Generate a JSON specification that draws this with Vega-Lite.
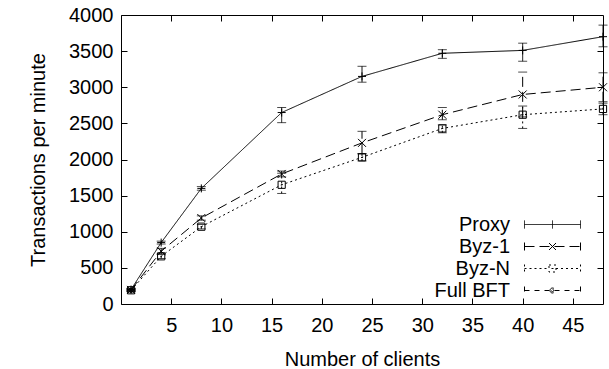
{
  "$schema": "https://vega.github.io/schema/vega-lite/v6.json",
  "width": 482,
  "height": 289,
  "autosize": "none",
  "padding": {"left": 121, "top": 15, "right": 6, "bottom": 65},
  "background": "white",
  "config": {
    "font": "Liberation Sans",
    "view": {"stroke": "black", "strokeWidth": 1},
    "axis": {
      "domain": false,
      "grid": false,
      "tickColor": "black",
      "tickSize": -6,
      "tickWidth": 1,
      "labelFont": "Liberation Sans",
      "labelFontSize": 20,
      "labelColor": "black",
      "labelPadding": 14,
      "titleFont": "Liberation Sans",
      "titleFontSize": 20,
      "titleFontWeight": "normal",
      "titleColor": "black"
    }
  },
  "data": {
    "values": [
      {"clients": 1, "series": "Proxy", "tpm": 200, "lo": 185, "hi": 215},
      {"clients": 4, "series": "Proxy", "tpm": 850, "lo": 830, "hi": 870},
      {"clients": 8, "series": "Proxy", "tpm": 1600, "lo": 1575, "hi": 1625},
      {"clients": 16, "series": "Proxy", "tpm": 2650, "lo": 2510, "hi": 2720},
      {"clients": 24, "series": "Proxy", "tpm": 3150, "lo": 3070, "hi": 3290},
      {"clients": 32, "series": "Proxy", "tpm": 3470, "lo": 3400, "hi": 3520},
      {"clients": 40, "series": "Proxy", "tpm": 3510, "lo": 3360, "hi": 3610},
      {"clients": 48, "series": "Proxy", "tpm": 3700, "lo": 3560, "hi": 3860},
      {"clients": 1, "series": "Byz-1", "tpm": 195, "lo": 180, "hi": 210},
      {"clients": 4, "series": "Byz-1", "tpm": 730, "lo": 690, "hi": 770},
      {"clients": 8, "series": "Byz-1", "tpm": 1190, "lo": 1160, "hi": 1220},
      {"clients": 16, "series": "Byz-1", "tpm": 1800, "lo": 1760, "hi": 1840},
      {"clients": 24, "series": "Byz-1", "tpm": 2230, "lo": 2080, "hi": 2390},
      {"clients": 32, "series": "Byz-1", "tpm": 2620, "lo": 2550, "hi": 2720},
      {"clients": 40, "series": "Byz-1", "tpm": 2900, "lo": 2590, "hi": 3210},
      {"clients": 48, "series": "Byz-1", "tpm": 3000, "lo": 2800, "hi": 3200},
      {"clients": 1, "series": "Byz-N", "tpm": 190, "lo": 175, "hi": 205},
      {"clients": 4, "series": "Byz-N", "tpm": 660, "lo": 630, "hi": 690},
      {"clients": 8, "series": "Byz-N", "tpm": 1070, "lo": 1040, "hi": 1100},
      {"clients": 16, "series": "Byz-N", "tpm": 1650, "lo": 1530, "hi": 1810},
      {"clients": 24, "series": "Byz-N", "tpm": 2030, "lo": 1980, "hi": 2080},
      {"clients": 32, "series": "Byz-N", "tpm": 2430, "lo": 2370, "hi": 2480},
      {"clients": 40, "series": "Byz-N", "tpm": 2620, "lo": 2430, "hi": 2740},
      {"clients": 48, "series": "Byz-N", "tpm": 2700, "lo": 2620, "hi": 2780},
      {"clients": 1, "series": "Full BFT", "tpm": 190, "lo": 180, "hi": 200}
    ]
  },
  "resolve": {
    "scale": {"shape": "independent", "strokeDash": "independent"},
    "axis": {"x": "independent", "y": "independent"},
    "legend": {"shape": "independent", "strokeDash": "independent"}
  },
  "layer": [
    {
      "mark": {"type": "line", "color": "black", "strokeWidth": 1},
      "encoding": {
        "x": {"field": "clients", "type": "quantitative", "scale": {"domain": [0, 48], "nice": false},
              "axis": {"orient": "bottom", "values": [5, 10, 15, 20, 25, 30, 35, 40, 45], "title": "Number of clients", "titlePadding": 14, "labelPadding": 17}},
        "y": {"field": "tpm", "type": "quantitative", "scale": {"domain": [0, 4000], "nice": false},
              "axis": {"orient": "left", "format": "d", "values": [0, 500, 1000, 1500, 2000, 2500, 3000, 3500, 4000], "title": "Transactions per minute", "titlePadding": 20}},
        "strokeDash": {"field": "series", "type": "nominal",
                       "scale": {"domain": ["Proxy", "Byz-1", "Byz-N", "Full BFT"], "range": [[1, 0], [10, 5], [2, 3], [5, 5]]},
                       "legend": null}
      }
    },
    {
      "mark": {"type": "rule", "color": "black", "strokeWidth": 1},
      "encoding": {
        "x": {"field": "clients", "type": "quantitative",
              "axis": {"orient": "top", "values": [5, 10, 15, 20, 25, 30, 35, 40, 45], "labels": false, "title": null}},
        "y": {"field": "lo", "type": "quantitative",
              "axis": {"orient": "right", "values": [500, 1000, 1500, 2000, 2500, 3000, 3500], "labels": false, "title": null}},
        "y2": {"field": "hi"},
        "strokeDash": {"field": "series", "type": "nominal",
                       "scale": {"domain": ["Proxy", "Byz-1", "Byz-N", "Full BFT"], "range": [[1, 0], [10, 5], [2, 3], [5, 5]]},
                       "legend": null}
      }
    },
    {
      "mark": {"type": "tick", "color": "black", "orient": "horizontal", "size": 9, "thickness": 1},
      "encoding": {
        "x": {"field": "clients", "type": "quantitative", "axis": null},
        "y": {"field": "lo", "type": "quantitative", "axis": null}
      }
    },
    {
      "mark": {"type": "tick", "color": "black", "orient": "horizontal", "size": 9, "thickness": 1},
      "encoding": {
        "x": {"field": "clients", "type": "quantitative", "axis": null},
        "y": {"field": "hi", "type": "quantitative", "axis": null}
      }
    },
    {
      "mark": {"type": "point", "color": "black", "filled": false, "strokeWidth": 1, "size": 64, "opacity": 1},
      "encoding": {
        "x": {"field": "clients", "type": "quantitative", "axis": null},
        "y": {"field": "tpm", "type": "quantitative", "axis": null},
        "shape": {"field": "series", "type": "nominal", "legend": null,
                  "scale": {"domain": ["Proxy", "Byz-1", "Byz-N", "Full BFT"],
                            "range": ["M-1,0H1M0,-1V1", "M-1,-1L1,1M-1,1L1,-1", "M-0.9,-0.9H0.9V0.9H-0.9ZM-0.2,0H0.2", "M-0.6,0A0.6,0.6 0 1 0 0.6,0A0.6,0.6 0 1 0 -0.6,0ZM-0.3,0A0.3,0.3 0 1 0 0.3,0A0.3,0.3 0 1 0 -0.3,0ZM-0.1,0H0.1"]}}
      }
    },
    {
      "transform": [{"filter": "datum.clients < 0"}],
      "mark": {"type": "point", "color": "black", "filled": false, "strokeWidth": 1, "size": 400, "opacity": 1},
      "encoding": {
        "x": {"field": "clients", "type": "quantitative", "axis": null},
        "y": {"field": "tpm", "type": "quantitative", "axis": null},
        "shape": {"field": "series", "type": "nominal",
                  "scale": {"domain": ["Proxy", "Byz-1", "Byz-N", "Full BFT"],
                            "range": [
                              "M-2.8,-0.4V0.4M-2.8,0H2.8M2.8,-0.4V0.4M0,-0.4V0.4",
                              "M-2.8,-0.4V0.4M-2.8,0H2.8M2.8,-0.4V0.4M-0.35,-0.35L0.35,0.35M-0.35,0.35L0.35,-0.35",
                              "M-2.8,-0.4V0.4M-2.8,0H-0.35M0.35,0H2.8M2.8,-0.4V0.4M-0.35,-0.35H0.35V0.35H-0.35ZM-0.1,0H0.1",
                              "M-2.8,-0.4V0.4M-2.8,0H2.8M2.8,-0.4V0.4M-0.25,0A0.25,0.25 0 1 0 0.25,0A0.25,0.25 0 1 0 -0.25,0ZM-0.12,0A0.12,0.12 0 1 0 0.12,0A0.12,0.12 0 1 0 -0.12,0Z"
                            ]},
                  "legend": {"title": null, "orient": "none", "legendX": 421, "legendY": 199, "padding": 0,
                             "labelFont": "Liberation Sans", "labelFontSize": 20, "labelColor": "black",
                             "labelAlign": "right", "labelOffset": -53, "rowPadding": 1, "symbolSize": 400,
                             "symbolStrokeColor": "black", "symbolFillColor": "transparent", "symbolStrokeWidth": 1}},
        "strokeDash": {"field": "series", "type": "nominal",
                       "scale": {"domain": ["Proxy", "Byz-1", "Byz-N", "Full BFT"], "range": [[1, 0], [10, 5], [2, 3], [5, 5]]},
                       "legend": {"title": null}}
      }
    }
  ]
}
